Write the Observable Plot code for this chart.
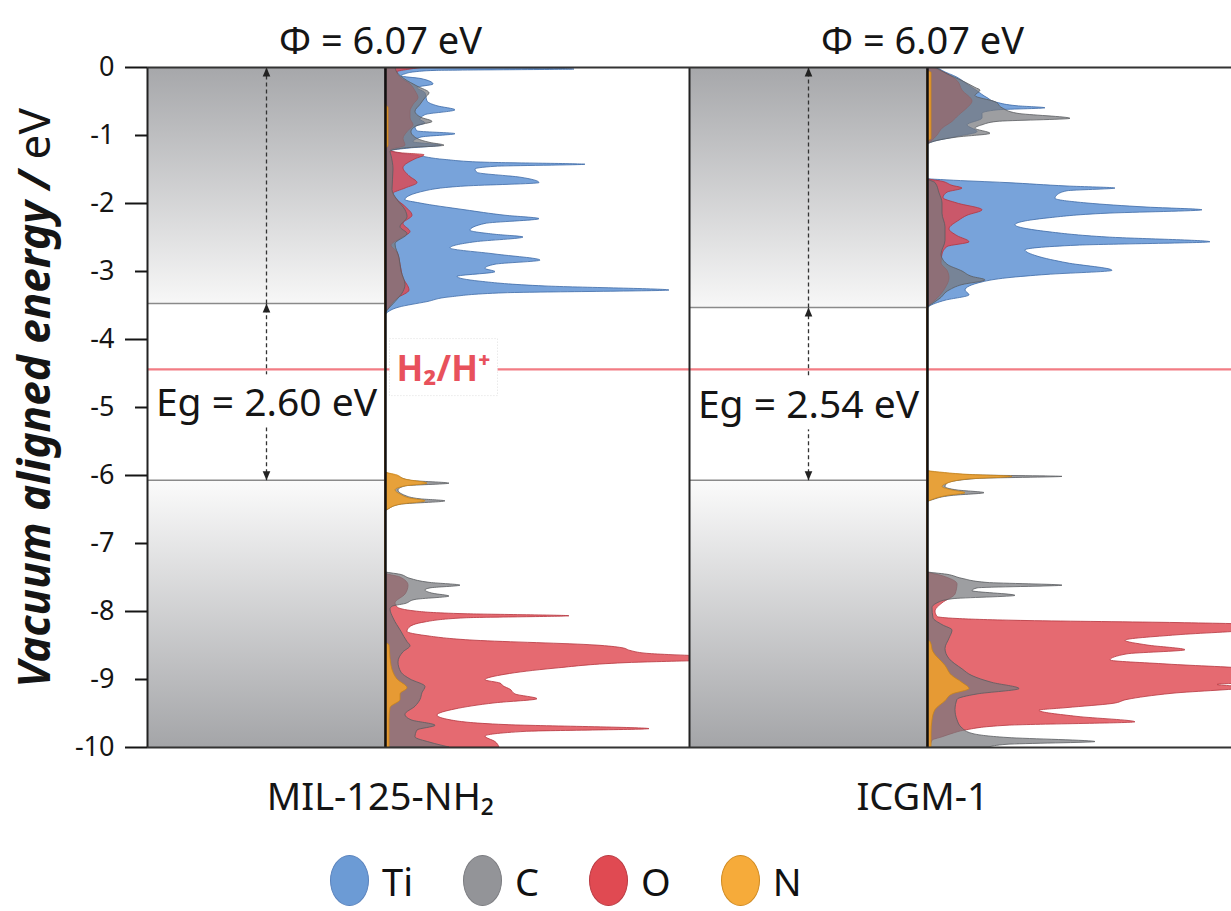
<!DOCTYPE html>
<html><head><meta charset="utf-8">
<script src="https://cdn.jsdelivr.net/npm/d3@7"></script>
<script src="https://cdn.jsdelivr.net/npm/@observablehq/plot@0.6"></script>
<style>
html,body{margin:0;padding:0;background:#fff;}
#chart{width:1231px;height:850px;}
#legend{position:relative;width:1231px;height:61px;font-family:'Noto Sans',sans-serif;font-size:38px;color:#111;display:flex;align-items:center;padding-left:330px;box-sizing:border-box;gap:50px;}
.item{display:flex;align-items:center;}
.sw{width:39px;height:51px;border-radius:50%;box-sizing:border-box;border:1.5px solid;}
.lab{margin-left:13px;line-height:1;}
</style></head><body>
<div id="chart"></div><div id="legend"></div>
<script>
// ---------- data ----------
const panels = ["MIL-125-NH₂", "ICGM-1"];
const workFunction = [6.07, 6.07];   // eV
const bandGap = [2.60, 2.54];        // eV
const h2Level = -4.44;               // H2/H+ level vs vacuum
const h2Text = "H₂/H⁺";
const yTickValues = [0, -1, -2, -3, -4, -5, -6, -7, -8, -9, -10];
const elements = ["Ti", "C", "O", "N"];

// projected DOS, [energy (eV), DOS (arb. units)]
const tiMIL = [[0.00,6],[-0.03,18.9],[-0.05,5],[-0.07,3.0],[-0.10,2.0],[-0.13,1.6],[-0.17,3.6],[-0.25,4.8],[-0.30,3.2],[-0.38,4.0],[-0.50,4.2],[-0.57,5.2],[-0.63,7.0],[-0.70,4.0],[-0.77,3.5],[-0.82,4.0],[-0.88,3.0],[-0.94,3.2],[-0.98,7.0],[-1.03,3.6],[-1.10,2.8],[-1.15,5.6],[-1.19,2.5],[-1.23,0.6],[-1.26,1.2],[-1.30,3.2],[-1.36,6.0],[-1.40,10],[-1.43,20.0],[-1.46,11],[-1.50,9.0],[-1.55,9.2],[-1.62,13.5],[-1.70,15.4],[-1.75,8],[-1.82,4.0],[-1.95,2.0],[-2.00,3.5],[-2.10,8.0],[-2.18,12],[-2.23,15.4],[-2.30,10.0],[-2.40,8.5],[-2.46,11],[-2.50,13.8],[-2.57,9.0],[-2.66,6.5],[-2.75,11.0],[-2.84,15.5],[-2.90,11],[-2.96,10.0],[-3.01,11.0],[-3.08,7.2],[-3.15,9.5],[-3.22,16],[-3.28,28.4],[-3.32,12],[-3.38,6.5],[-3.45,4.2],[-3.53,1.4],[-3.60,0.3],[-3.64,0]];
const oMIL = [[0.00,4.0],[-0.03,2.5],[-0.07,1.2],[-0.15,1.5],[-0.25,2.5],[-0.35,3.0],[-0.45,3.3],[-0.55,2.8],[-0.65,2.5],[-0.75,2.5],[-0.85,2.8],[-0.95,2.2],[-1.05,1.8],[-1.15,2.0],[-1.22,0.5],[-1.26,1.5],[-1.29,3.9],[-1.35,3.0],[-1.48,1.8],[-1.60,2.4],[-1.70,3.2],[-1.78,2.0],[-1.86,0.8],[-1.95,1.2],[-2.05,2.0],[-2.18,2.7],[-2.30,1.8],[-2.42,2.5],[-2.52,1.5],[-2.62,0.6],[-2.72,1.2],[-2.90,1.5],[-3.10,1.8],[-3.28,2.4],[-3.40,1.2],[-3.55,0.3],[-3.62,0],
  [-7.44,0],[-7.50,1.5],[-7.62,2.3],[-7.75,2.0],[-7.88,1.0],[-7.94,1.2],[-8.00,3.0],[-8.04,8.0],[-8.07,18.4],[-8.10,8.0],[-8.16,4.0],[-8.24,2.4],[-8.30,2.2],[-8.36,4.0],[-8.43,9.0],[-8.50,21.0],[-8.54,23.7],[-8.58,24.5],[-8.62,26],[-8.70,36],[-8.76,24],[-8.84,17],[-8.93,12],[-9.01,10.0],[-9.06,11.5],[-9.10,11.8],[-9.15,12.5],[-9.22,13],[-9.29,15.2],[-9.35,11],[-9.44,7.0],[-9.53,5.2],[-9.60,6.5],[-9.67,12],[-9.73,26.4],[-9.77,14],[-9.84,10],[-9.92,11],[-10.0,11.4]];
const cMIL = [[0.00,1.0],[-0.08,1.2],[-0.18,2.0],[-0.28,3.2],[-0.38,4.4],[-0.45,4.0],[-0.55,3.5],[-0.65,3.0],[-0.74,3.6],[-0.80,4.7],[-0.86,3.2],[-0.95,2.6],[-1.05,3.2],[-1.11,4.5],[-1.15,5.9],[-1.19,2.0],[-1.24,0.5],[-1.30,0.6],[-1.50,0.8],[-1.80,0.7],[-1.95,1.2],[-2.10,2.0],[-2.20,2.2],[-2.35,1.5],[-2.45,2.2],[-2.60,1.0],[-2.80,1.4],[-3.00,1.6],[-3.20,2.0],[-3.30,1.8],[-3.45,1.0],[-3.58,0.2],[-3.63,0],
  [-5.95,0],[-6.02,1.3],[-6.08,2.6],[-6.12,6.4],[-6.16,2.0],[-6.22,1.3],[-6.30,2.0],[-6.35,3.5],[-6.38,6.0],[-6.43,1.5],[-6.50,0.3],[-6.53,0],
  [-7.42,0],[-7.46,1.5],[-7.52,2.5],[-7.58,4.5],[-7.62,7.5],[-7.66,4.5],[-7.69,4.0],[-7.74,4.8],[-7.78,6.4],[-7.83,3.0],[-7.89,2.0],[-7.93,0.7],[-7.97,0.5],[-8.10,0.8],[-8.30,1.6],[-8.45,2.2],[-8.51,2.5],[-8.60,1.8],[-8.75,1.3],[-8.90,1.6],[-9.00,2.5],[-9.11,4.0],[-9.20,3.7],[-9.30,3.5],[-9.40,3.0],[-9.52,2.0],[-9.60,2.6],[-9.68,5.0],[-9.75,3.2],[-9.85,3.0],[-9.93,4.5],[-10.0,6.4]];
const nMIL = [[-0.55,0],[-0.60,0.3],[-1.15,0.3],[-1.22,0],
  [-5.95,0],[-6.00,1.2],[-6.06,2.0],[-6.12,4.2],[-6.16,2.0],[-6.22,1.0],[-6.28,1.5],[-6.34,2.5],[-6.38,4.0],[-6.43,1.5],[-6.50,0.3],[-6.53,0],
  [-8.45,0],[-8.50,0.4],[-8.70,0.5],[-8.90,0.8],[-9.00,1.2],[-9.13,2.2],[-9.22,1.5],[-9.30,1.5],[-9.42,0.5],[-9.60,0.4],[-10.0,0.4]];

const tiICGM = [[0.00,1.0],[-0.05,1.5],[-0.15,3.0],[-0.25,4.0],[-0.35,5.0],[-0.45,6.0],[-0.52,7.0],[-0.57,9.0],[-0.60,11.8],[-0.63,7.0],[-0.68,5.5],[-0.75,5.5],[-0.85,4.0],[-0.95,5.0],[-1.02,3.0],[-1.10,0.5],[-1.13,0],
  [-1.64,0],[-1.66,2.0],[-1.70,8.0],[-1.75,14],[-1.78,18.8],[-1.82,14],[-1.88,13],[-1.93,12.8],[-2.00,16],[-2.06,22],[-2.10,27.5],[-2.15,18],[-2.22,12],[-2.32,8.8],[-2.42,12],[-2.50,18],[-2.57,28.3],[-2.62,15],[-2.69,9.8],[-2.78,11],[-2.88,14],[-2.99,18.5],[-3.05,12],[-3.10,8],[-3.16,5.5],[-3.28,3.8],[-3.35,4.2],[-3.43,1.8],[-3.52,0.2],[-3.55,0]];
const oICGM = [[0.00,0.5],[-0.10,2.0],[-0.20,3.0],[-0.34,3.5],[-0.50,4.5],[-0.60,4.0],[-0.70,3.2],[-0.80,2.5],[-0.90,1.5],[-1.00,1.0],[-1.10,0.3],[-1.13,0],
  [-1.64,0],[-1.68,1.5],[-1.74,2.5],[-1.78,3.5],[-1.84,2.0],[-1.92,1.6],[-2.00,3.0],[-2.10,5.5],[-2.18,4.0],[-2.25,3.2],[-2.38,2.2],[-2.48,3.0],[-2.57,4.2],[-2.64,2.0],[-2.75,1.5],[-2.88,1.4],[-2.99,2.0],[-3.10,2.2],[-3.25,1.8],[-3.40,1.0],[-3.50,0.2],[-3.53,0],
  [-7.42,0],[-7.48,1.5],[-7.60,3.0],[-7.75,2.8],[-7.88,1.5],[-8.00,0.8],[-8.08,1.0],[-8.11,3],[-8.14,10],[-8.17,25],[-8.20,33],[-8.28,32],[-8.35,25],[-8.43,19.8],[-8.50,22],[-8.57,25.8],[-8.63,20],[-8.72,18.3],[-8.78,24],[-8.85,32],[-8.95,33],[-9.04,34],[-9.08,29],[-9.12,32],[-9.21,24.5],[-9.30,20],[-9.36,18.5],[-9.42,14],[-9.46,11.2],[-9.55,15],[-9.63,20.8],[-9.68,8],[-9.75,3.8],[-9.80,2.5],[-9.85,1.5],[-9.90,0.5],[-10.0,0.3]];
const cICGM = [[0.00,0.8],[-0.10,2.0],[-0.20,3.5],[-0.30,4.8],[-0.34,5.3],[-0.42,4.8],[-0.51,6.8],[-0.60,7.5],[-0.68,9],[-0.755,14.3],[-0.80,7],[-0.85,5.5],[-0.90,4.8],[-0.975,6.3],[-1.03,3.0],[-1.08,1.0],[-1.12,0.2],[-1.14,0],
  [-1.64,0],[-1.70,0.8],[-1.85,1.2],[-2.00,1.5],[-2.15,1.5],[-2.35,1.8],[-2.55,1.8],[-2.75,1.4],[-2.90,2.0],[-3.00,3.5],[-3.08,4.5],[-3.13,5.8],[-3.20,3.5],[-3.28,2.2],[-3.40,1.3],[-3.50,0.3],[-3.53,0],
  [-5.93,0],[-5.97,1.5],[-6.00,5.0],[-6.02,13.5],[-6.05,5.0],[-6.12,2.0],[-6.17,1.8],[-6.22,3.0],[-6.26,5.7],[-6.30,2.5],[-6.36,0.6],[-6.40,0],
  [-7.42,0],[-7.46,2.0],[-7.52,3.5],[-7.58,6.0],[-7.62,13.5],[-7.66,5.0],[-7.70,4.5],[-7.77,8.8],[-7.82,2.5],[-7.88,1.0],[-7.95,0.5],[-8.10,0.6],[-8.20,1.5],[-8.28,2.5],[-8.40,2.2],[-8.55,1.8],[-8.70,2.2],[-8.85,3.5],[-8.95,4.5],[-9.05,6.5],[-9.14,9.2],[-9.22,5.0],[-9.30,3.0],[-9.45,2.8],[-9.60,3.0],[-9.72,3.5],[-9.80,4.5],[-9.86,8],[-9.92,16.8],[-9.96,8],[-10.0,6.2]];
const nICGM = [[-0.05,0],[-0.08,0.4],[-1.05,0.4],[-1.10,0],
  [-5.93,0],[-5.96,1.5],[-5.99,4.0],[-6.02,8.5],[-6.06,4.0],[-6.12,2.0],[-6.17,1.5],[-6.22,2.5],[-6.26,3.8],[-6.30,2.0],[-6.36,0.5],[-6.40,0],
  [-8.40,0],[-8.45,0.3],[-8.60,0.6],[-8.80,1.8],[-8.95,2.5],[-9.05,3.5],[-9.14,4.2],[-9.22,2.5],[-9.32,1.8],[-9.45,0.8],[-9.60,0.5],[-9.80,0.4],[-10.0,0.4]];

// ---------- styles ----------
const elFill   = {Ti: "#4e86cf", C: "#77797d", O: "#df454d", N: "#f5a128"};
const elStroke = {Ti: "#3d6aa8", C: "#5a5c60", O: "#b5353d", N: "#c98419"};
const elOpacity = {Ti: 0.76, C: 0.72, O: 0.8, N: 0.85};
const legendFill = {Ti: "#6c9bd5", C: "#939498", O: "#e04a52", N: "#f6ab3a"};
const legendStroke = {Ti: "#5a83bd", C: "#7b7c80", O: "#b93a42", N: "#d08a20"};
const drawOrder = ["Ti", "O", "C", "N"];

// ---------- tables ----------
const series = [
  [0, "Ti", tiMIL], [0, "O", oMIL], [0, "C", cMIL], [0, "N", nMIL],
  [1, "Ti", tiICGM], [1, "O", oICGM], [1, "C", cICGM], [1, "N", nICGM]
];
const dos = series.flatMap(([p, el, arr]) => arr.map(([e, v]) => ({panel: panels[p], element: el, energy: e, dos: v})));
const panelTable = panels.map((p, i) => ({
  panel: p, phi: workFunction[i], eg: bandGap[i],
  vb: -workFunction[i], cb: -workFunction[i] + bandGap[i]
}));

const xDomain = [-23.8, 30.4];
const yDomain = [-10, 0];
const boxLeft = xDomain[0];
const boxMid = boxLeft / 2;

const arrowUp = {draw(ctx) { ctx.moveTo(0, 0); ctx.lineTo(3.8, 9); ctx.lineTo(-3.8, 9); ctx.closePath(); }};
const arrowDown = {draw(ctx) { ctx.moveTo(0, 0); ctx.lineTo(3.8, -9); ctx.lineTo(-3.8, -9); ctx.closePath(); }};

const font = "'Noto Sans', 'Open Sans', sans-serif";
const txt = "#151515";
const egText = d => `Eg = ${d.eg.toFixed(2)} eV`;

const chart = Plot.plot({
  width: 1231, height: 850,
  marginLeft: 147, marginRight: 0, marginTop: 67, marginBottom: 103,
  style: {fontFamily: font, fontSize: "27px", color: txt, background: "white"},
  x: {domain: xDomain, axis: null},
  y: {domain: yDomain},
  fx: {domain: panels, paddingInner: 0, paddingOuter: 0, axis: null},
  marks: [
    Plot.rect(panelTable, {fx: "panel", x1: () => boxLeft, x2: () => 0, y1: () => yDomain[1], y2: "cb", fill: "url(#gradTop)"}),
    Plot.rect(panelTable, {fx: "panel", x1: () => boxLeft, x2: () => 0, y1: "vb", y2: () => yDomain[0], fill: "url(#gradBot)"}),
    Plot.ruleY(panelTable, {fx: "panel", y: "cb", x1: () => boxLeft, x2: () => 0, stroke: "#8a8a8a", strokeWidth: 1.5}),
    Plot.ruleY(panelTable, {fx: "panel", y: "vb", x1: () => boxLeft, x2: () => 0, stroke: "#8a8a8a", strokeWidth: 1.5}),
    Plot.ruleY([h2Level], {stroke: "#f27c84", strokeWidth: 2.2}),
    ...drawOrder.map(el => Plot.areaX(dos.filter(d => d.element === el), {
      fx: "panel", y: "energy", x1: () => 0, x2: "dos", curve: "monotone-y", clip: true,
      fill: elFill[el], fillOpacity: elOpacity[el], stroke: elStroke[el], strokeWidth: 1, strokeOpacity: 0.8
    })),
    Plot.ruleX(panelTable, {fx: "panel", x: () => boxLeft, y1: () => yDomain[0], y2: () => yDomain[1], stroke: "#222", strokeWidth: 2}),
    Plot.ruleX(panelTable, {fx: "panel", x: () => 0, y1: () => yDomain[0], y2: () => yDomain[1], stroke: "#111", strokeWidth: 2.5}),
    Plot.ruleY(yDomain, {stroke: "#333", strokeWidth: 2}),
    Plot.link(panelTable, {fx: "panel", x1: () => boxMid, x2: () => boxMid, y1: "cb", y2: () => yDomain[1], stroke: "#333", strokeWidth: 1.3, strokeDasharray: "4,3"}),
    Plot.link(panelTable, {fx: "panel", x1: () => boxMid, x2: () => boxMid, y1: "vb", y2: "cb", stroke: "#333", strokeWidth: 1.3, strokeDasharray: "4,3"}),
    Plot.dot(panelTable, {fx: "panel", x: () => boxMid, y: () => yDomain[1], symbol: arrowUp, fill: "#222", stroke: "none"}),
    Plot.dot(panelTable, {fx: "panel", x: () => boxMid, y: "cb", symbol: arrowUp, fill: "#222", stroke: "none"}),
    Plot.dot(panelTable, {fx: "panel", x: () => boxMid, y: "vb", symbol: arrowDown, fill: "#222", stroke: "none"}),
    Plot.text(panelTable, {fx: "panel", x: () => boxMid, y: d => (d.cb + d.vb) / 2, dy: 12, text: egText, fontSize: 39, fill: txt}),
    Plot.text([{panel: panels[0], level: h2Level}], {fx: "panel", x: () => 0, y: "level", dx: 58, text: () => h2Text, fill: "#e8515c", fontWeight: "bold", fontSize: 35}),
    Plot.text(panelTable, {fx: "panel", x: () => 0, frameAnchor: "top", dy: -40, dx: -5, text: d => `Φ = ${d.phi.toFixed(2)} eV`, fontSize: 38, fill: txt}),
    Plot.text(panelTable, {fx: "panel", x: () => 0, frameAnchor: "bottom", dy: 62, dx: -5, text: "panel", fontSize: 38, fill: txt}),
    Plot.axisY({ticks: yTickValues.filter(v => v % 2 === 0), tickSize: 22, tickPadding: 11, tickFormat: d => String(d), fontSize: 27, strokeWidth: 2, label: null}),
    Plot.axisY({ticks: yTickValues.filter(v => v % 2 !== 0), tickSize: 12, tickPadding: 21, tickFormat: d => String(d), fontSize: 27, strokeWidth: 2, label: null})
  ]
});

document.getElementById("chart").appendChild(chart);
const svg = d3.select(chart);

// gradients for the band boxes
const defs = svg.insert("defs", ":first-child");
const gTop = defs.append("linearGradient").attr("id", "gradTop").attr("x1", 0).attr("y1", 0).attr("x2", 0).attr("y2", 1);
gTop.append("stop").attr("offset", "0%").attr("stop-color", "#a6a7aa");
gTop.append("stop").attr("offset", "100%").attr("stop-color", "#f7f7f7");
const gBot = defs.append("linearGradient").attr("id", "gradBot").attr("x1", 0).attr("y1", 0).attr("x2", 0).attr("y2", 1);
gBot.append("stop").attr("offset", "0%").attr("stop-color", "#fbfbfb");
gBot.append("stop").attr("offset", "100%").attr("stop-color", "#a4a5a8");

// white boxes behind labels (found by their text)
function addBackground(match, padX, padY, stroke, dash) {
  svg.selectAll("text").filter(function () { return match(this.textContent); }).each(function () {
    const b = this.getBBox();
    const node = this;
    d3.select(this.parentNode).insert("rect", () => node)
      .attr("x", b.x - padX).attr("y", b.y - padY)
      .attr("width", b.width + 2 * padX).attr("height", b.height + 2 * padY)
      .attr("transform", this.getAttribute("transform"))
      .attr("fill", "white").attr("stroke", stroke).attr("stroke-dasharray", dash).attr("stroke-width", 1);
  });
}
const egTexts = new Set(panelTable.map(egText));
addBackground(t => egTexts.has(t), 3, 0, "none", null);
addBackground(t => t === h2Text, 7, 5, "#dedede", "1,2");

// y-axis title
const yTitle = svg.append("text")
  .attr("transform", "translate(33,398) rotate(-90)")
  .attr("text-anchor", "middle").attr("dominant-baseline", "central")
  .attr("font-family", font).attr("font-size", 44).attr("fill", txt);
yTitle.append("tspan").attr("font-weight", "bold").attr("font-style", "italic").text("Vacuum aligned energy /");
yTitle.append("tspan").text(" eV");

// legend
const legend = d3.select("#legend");
elements.forEach(el => {
  const it = legend.append("div").attr("class", "item");
  it.append("div").attr("class", "sw").style("background", legendFill[el]).style("border-color", legendStroke[el]);
  it.append("span").attr("class", "lab").text(el);
});
</script></body></html>
